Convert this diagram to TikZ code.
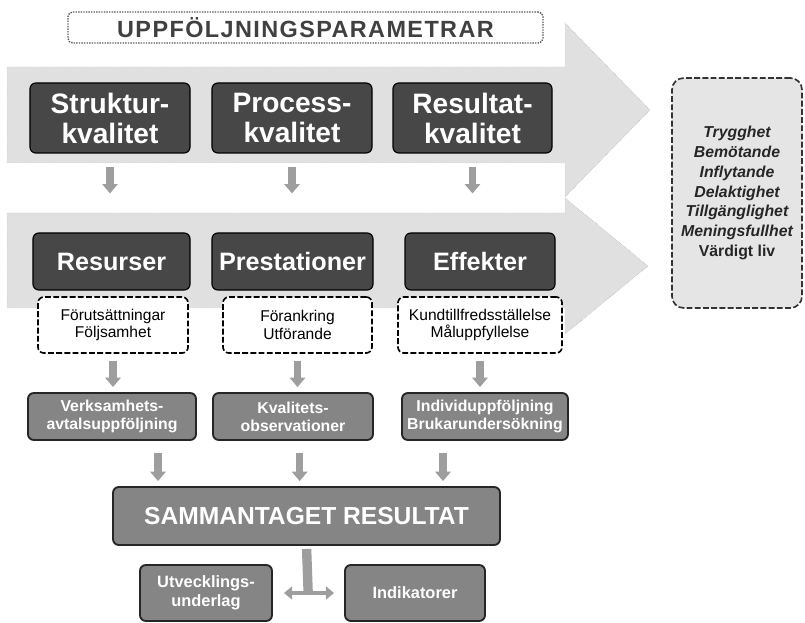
\documentclass[tikz,border=0pt]{standalone}
\usepackage{fontspec}
\setmainfont{Liberation Sans}
\setsansfont{Liberation Sans}
\usetikzlibrary{arrows.meta,positioning,calc}

\begin{document}
\begin{tikzpicture}[x=0.03cm, y=-0.03cm,
    band/.style={fill=black!12, draw=black!35, densely dotted},
    darkbox/.style={rectangle, rounded corners=5pt, fill=black!72, draw=black,
      line width=1pt, text=white, align=center, inner sep=1pt},
    midbox/.style={rectangle, rounded corners=5pt, fill=black!48, draw=black!85,
      line width=1.6pt, text=white, align=center, inner sep=1pt,
      font=\fontsize{13.5pt}{15.5pt}\selectfont\bfseries},
    notebox/.style={rectangle, rounded corners=5pt, fill=white, draw=black,
      line width=1.4pt, dash pattern=on 5pt off 2pt, align=center, inner sep=1pt,
      font=\fontsize{13.3pt}{15pt}\selectfont},
    flow/.style={draw=black!38, line width=6.5pt,
      -{Triangle[width=13pt,length=8pt]}}]
  \useasboundingbox (0,0) rectangle (805,623);

  % background bands
  \draw[band] (7,67) -- (565,67) -- (565,23) -- (650,110) -- (565,197)
    -- (565,163) -- (7,163) -- cycle;
  \draw[band] (7,213) -- (565,213) -- (565,198) -- (648,266) -- (565,334)
    -- (565,308) -- (7,308) -- cycle;

  % title
  \node (rubrik) [rectangle, rounded corners=4pt, draw=black!65, densely dotted,
      line width=1.2pt, minimum width=14.25cm, minimum height=0.93cm,
      text=black!75, font=\fontsize{20pt}{22pt}\selectfont\bfseries\addfontfeature{LetterSpace=6}]
    at (305.5,27.5) {UPPFÖLJNINGSPARAMETRAR};

  % quality row
  \node (struktur) [darkbox, minimum width=4.8cm, minimum height=2.1cm,
      font=\fontsize{24pt}{25.6pt}\selectfont\bfseries]
    at (110,118) {Struktur-\\kvalitet};
  \node (process) [darkbox, minimum width=4.8cm, minimum height=2.1cm,
      font=\fontsize{24pt}{25.6pt}\selectfont\bfseries]
    at (292,118) {Process-\\kvalitet};
  \node (resultat) [darkbox, minimum width=4.77cm, minimum height=2.1cm,
      font=\fontsize{24pt}{25.6pt}\selectfont\bfseries]
    at (472.5,118) {Resultat-\\kvalitet};

  % outcome row
  \node (resurser) [darkbox, minimum width=4.71cm, minimum height=1.71cm,
      font=\fontsize{21.5pt}{23pt}\selectfont\bfseries]
    at (111.5,261.5) {Resurser};
  \node (prestationer) [darkbox, minimum width=4.83cm, minimum height=1.71cm,
      font=\fontsize{21.5pt}{23pt}\selectfont\bfseries]
    at (292.5,261.5) {Prestationer};
  \node (effekter) [darkbox, minimum width=4.5cm, minimum height=1.71cm,
      font=\fontsize{21.5pt}{23pt}\selectfont\bfseries]
    at (480,261.5) {Effekter};

  % dashed notes
  \node (forutsattning) [notebox, minimum width=4.5cm, minimum height=1.68cm]
    at (113,325) {Förutsättningar\\Följsamhet};
  \node (forankring) [notebox, minimum width=4.47cm, minimum height=1.68cm]
    at (297.5,325) {Förankring\\Utförande};
  \node (kundnojd) [notebox, minimum width=4.92cm, minimum height=1.68cm]
    at (480,325) {Kundtillfredsställelse\\Måluppfyllelse};

  % follow-up methods
  \node (verksamhet) [midbox, minimum width=5.04cm, minimum height=1.41cm]
    at (112,416.5) {Verksamhets-\\avtalsuppföljning};
  \node (kvalitet) [midbox, minimum width=4.8cm, minimum height=1.41cm]
    at (293,416.5) {Kvalitets-\\observationer};
  \node (individ) [midbox, minimum width=4.98cm, minimum height=1.41cm]
    at (485,416.5) {Individuppföljning\\Brukarundersökning};

  \node (sammantaget) [midbox, minimum width=11.61cm, minimum height=1.74cm,
      font=\fontsize{21pt}{23pt}\selectfont\bfseries]
    at (306.5,516) {SAMMANTAGET RESULTAT};

  \node (utveckling) [midbox, minimum width=3.96cm, minimum height=1.68cm,
      font=\fontsize{14pt}{16pt}\selectfont\bfseries]
    at (206,593) {Utvecklings-\\underlag};
  \node (indikatorer) [midbox, minimum width=4.2cm, minimum height=1.68cm,
      font=\fontsize{14pt}{16pt}\selectfont\bfseries]
    at (415,593) {Indikatorer};

  % values
  \node (vardeord) [rectangle, rounded corners=10pt, fill=black!10, draw=black!80,
      line width=1.4pt, dash pattern=on 5pt off 2pt, minimum width=3.9cm,
      minimum height=6.9cm, align=center, text=black!85,
      font=\fontsize{13.5pt}{17pt}\selectfont\bfseries\itshape]
    at (737,193) {Trygghet\\Bemötande\\Inflytande\\Delaktighet\\Tillgänglighet\\
      Meningsfullhet\\{\upshape Värdigt liv}};

  % Draw arrows
  \draw[flow, shorten <=0.39cm, shorten >=1.17cm]
    (struktur.south) -- (struktur.south |- resurser.north);
  \draw[flow, shorten <=0.39cm, shorten >=1.17cm]
    (process.south) -- (process.south |- prestationer.north);
  \draw[flow, shorten <=0.39cm, shorten >=1.17cm]
    (resultat.south) -- (resultat.south |- effekter.north);

  \draw[flow, shorten <=0.21cm, shorten >=0.15cm]
    (forutsattning.south) -- (forutsattning.south |- verksamhet.north);
  \draw[flow, shorten <=0.21cm, shorten >=0.15cm]
    (forankring.south) -- (forankring.south |- kvalitet.north);
  \draw[flow, shorten <=0.21cm, shorten >=0.15cm]
    (kundnojd.south) -- (kundnojd.south |- individ.north);

  \draw[flow, shorten <=0.36cm, shorten >=0.15cm]
    ([xshift=1.38cm]verksamhet.south) -- ([xshift=1.38cm]verksamhet.south |- sammantaget.north);
  \draw[flow, shorten <=0.36cm, shorten >=0.15cm]
    ([xshift=0.2cm]kvalitet.south) -- ([xshift=0.2cm]kvalitet.south |- sammantaget.north);
  \draw[flow, shorten <=0.36cm, shorten >=0.15cm]
    ([xshift=-1.26cm]individ.south) -- ([xshift=-1.26cm]individ.south |- sammantaget.north);

  \coordinate (delning) at ([xshift=0.05cm]sammantaget.south |- utveckling.east);
  \draw[flow, -, line width=8pt, shorten <=0.09cm]
    (sammantaget.south) -- (delning);
  \draw[flow, line width=3pt, {Triangle[width=11pt,length=7pt]}-{Triangle[width=11pt,length=7pt]},
      shorten <=0.33cm, shorten >=0.3cm]
    (utveckling.east) -- (indikatorer.west);
\end{tikzpicture}
\end{document}
